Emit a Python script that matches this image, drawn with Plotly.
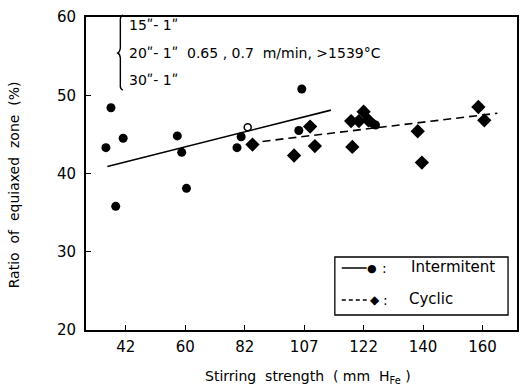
import plotly.graph_objects as go

# Stirring strength categories (mm HFe), placed at equal spacing 1..7
tick_pos = [1, 2, 3, 4, 5, 6, 7]
tick_labels = ["42", "60", "82", "107", "122", "140", "160"]

# Intermittent stirring: ratio of equiaxed zone (%)
inter_x = [0.665, 0.75, 0.83, 0.955, 1.866, 1.94, 2.02, 2.87, 2.94, 3.91, 3.96, 5.15, 5.2]
inter_y = [43.3, 48.4, 35.8, 44.5, 44.8, 42.7, 38.1, 43.3, 44.7, 45.5, 50.8, 46.4, 46.2]
inter_open_x = [3.05]
inter_open_y = [45.9]
inter_fit_x = [0.69, 4.45]
inter_fit_y = [40.9, 48.1]

# Cyclic stirring
cyc_x = [3.13, 3.83, 4.1, 4.18, 4.79, 4.81, 4.92, 5.0, 5.08, 5.91, 5.98, 6.93, 7.03]
cyc_y = [43.7, 42.3, 46.0, 43.5, 46.7, 43.4, 46.7, 47.9, 46.8, 45.4, 41.4, 48.5, 46.8]
cyc_fit_x = [3.3, 7.25]
cyc_fit_y = [44.1, 47.7]

FONT = "DejaVu Sans"
W, H = 520, 387
ML, MR, MT, MB = 86, 1, 17, 57
PW, PH = W - ML - MR, H - MT - MB


def px(x):
    return (x - ML) / PW


def py(y):
    return (H - MB - y) / PH


fig = go.Figure()
fig.add_trace(go.Scatter(x=inter_fit_x, y=inter_fit_y, mode="lines",
                         line=dict(color="black", width=1.6)))
fig.add_trace(go.Scatter(x=cyc_fit_x, y=cyc_fit_y, mode="lines",
                         line=dict(color="black", width=1.6, dash="8px,5px")))
fig.add_trace(go.Scatter(x=inter_x, y=inter_y, mode="markers",
                         marker=dict(symbol="circle", size=9, color="black")))
fig.add_trace(go.Scatter(x=inter_open_x, y=inter_open_y, mode="markers",
                         marker=dict(symbol="circle-open", size=7, color="black",
                                     line=dict(width=1.5))))
fig.add_trace(go.Scatter(x=cyc_x, y=cyc_y, mode="markers",
                         marker=dict(symbol="diamond", size=11, color="black")))

axis_common = dict(showline=True, linecolor="black", linewidth=2, mirror=True,
                   ticks="inside", ticklen=5, tickwidth=1.2, tickcolor="black",
                   showgrid=False, zeroline=False,
                   tickfont=dict(family=FONT, size=15, color="black"))

fig.update_xaxes(range=[0.33, 7.58], tickvals=tick_pos, ticktext=tick_labels,
                 ticklabelstandoff=2, **axis_common)
fig.update_yaxes(range=[20, 60], tickvals=[20, 30, 40, 50, 60],
                 ticklabelstandoff=5, **axis_common)

shapes = []
annotations = []

# Axis titles
annotations.append(dict(x=px(14), y=py(185), xref="paper", yref="paper",
                        text="Ratio  of  equiaxed  zone  (%)", textangle=-90,
                        showarrow=False, font=dict(family=FONT, size=14, color="black"),
                        xanchor="center", yanchor="middle"))
annotations.append(dict(x=px(309), y=py(377), xref="paper", yref="paper",
                        text="Stirring  strength  ( mm  H<sub>Fe</sub> )",
                        showarrow=False, font=dict(family=FONT, size=14, color="black"),
                        xanchor="center", yanchor="middle"))

# Casting conditions with brace
rows = [(25, "15\u02ba- 1\u02ba"),
        (53, "20\u02ba- 1\u02ba  0.65 , 0.7  m/min, >1539\u00b0C"),
        (80, "30\u02ba- 1\u02ba")]
for yy, t in rows:
    annotations.append(dict(x=px(127), y=py(yy), xref="paper", yref="paper", text=t,
                            showarrow=False, xanchor="left", yanchor="middle",
                            font=dict(family=FONT, size=14, color="black")))
bx0, bx1 = px(118), px(123)
shapes.append(dict(type="path", xref="paper", yref="paper",
                   path=(f"M {bx1} {py(15)} Q {px(120)} {py(16)} {px(120.5)} {py(22)} "
                         f"L {px(120.5)} {py(48)} Q {px(120)} {py(52)} {bx0} {py(53)} "
                         f"Q {px(120)} {py(54)} {px(120.5)} {py(58)} "
                         f"L {px(120.5)} {py(84)} Q {px(120)} {py(89)} {bx1} {py(90)}"),
                   line=dict(color="black", width=1.4)))

# Legend box
shapes.append(dict(type="rect", xref="paper", yref="paper",
                   x0=px(336), x1=px(510), y0=py(315), y1=py(257),
                   line=dict(color="black", width=1.3), fillcolor="white"))
shapes.append(dict(type="line", xref="paper", yref="paper",
                   x0=px(343), x1=px(368), y0=py(268), y1=py(268),
                   line=dict(color="black", width=1.5)))
shapes.append(dict(type="line", xref="paper", yref="paper",
                   x0=px(343), x1=px(368), y0=py(300), y1=py(300),
                   line=dict(color="black", width=1.5, dash="4px,3px")))
legend_items = [(373, 268, "\u25cf", 11), (376, 300, "\u25c6", 12),
                (386, 268, ":", 14), (387, 300, ":", 14)]
for xx, yy, t, s in legend_items:
    annotations.append(dict(x=px(xx), y=py(yy), xref="paper", yref="paper", text=t,
                            showarrow=False, xanchor="center", yanchor="middle",
                            font=dict(family=FONT, size=s, color="black")))
annotations.append(dict(x=px(411), y=py(267), xref="paper", yref="paper",
                        text="Intermitent", showarrow=False, xanchor="left", yanchor="middle",
                        font=dict(family=FONT, size=15, color="black")))
annotations.append(dict(x=px(408), y=py(299), xref="paper", yref="paper",
                        text="Cyclic", showarrow=False, xanchor="left", yanchor="middle",
                        font=dict(family=FONT, size=15, color="black")))

fig.update_layout(width=W, height=H, margin=dict(l=ML, r=MR, t=MT, b=MB),
                  paper_bgcolor="white", plot_bgcolor="white", showlegend=False,
                  shapes=shapes, annotations=annotations)

fig.write_html("out.html")
